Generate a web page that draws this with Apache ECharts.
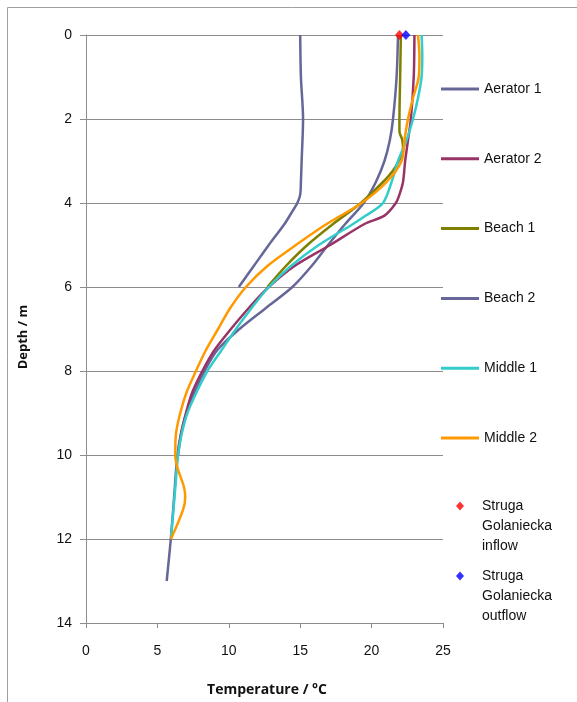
<!DOCTYPE html>
<html>
<head>
<meta charset="utf-8">
<script src="https://cdn.jsdelivr.net/npm/echarts@6/dist/echarts.min.js"></script>
<style>
html,body{margin:0;padding:0;background:#fff;}
#chart{width:577px;height:702px;}
</style>
</head>
<body>
<div id="chart"></div>
<script>
// ---- data (temperature °C vs depth m) ----
const aerator1Depth = [0, 1, 2, 2.5, 3, 3.5, 4, 4.5, 5, 5.5, 6, 6.5, 7, 7.5, 8, 8.5, 9, 9.5, 10, 11, 12, 13];
const aerator1Temp  = [21.85, 21.75, 21.5, 21.28, 20.9, 20.3, 19.45, 18.15, 16.95, 15.8, 14.45, 12.6, 10.75, 9.2, 8.3, 7.6, 7.05, 6.65, 6.4, 6.17, 5.94, 5.65];

const aerator2Depth = [0, 1, 2, 2.5, 3, 3.5, 3.8, 4, 4.3, 4.5, 5, 5.5, 6, 6.5, 7, 7.5, 8, 8.5, 9, 9.5, 10];
const aerator2Temp  = [23.0, 22.95, 22.75, 22.55, 22.35, 22.2, 21.95, 21.7, 20.9, 19.5, 17.1, 14.6, 12.8, 11.4, 10.15, 9.0, 8.15, 7.45, 7.0, 6.65, 6.45];

const beach1Depth = [0, 1, 2, 2.3, 2.5, 2.75, 3, 3.25, 3.5, 4, 4.5, 5, 5.5, 6];
const beach1Temp  = [22.05, 22.0, 21.95, 21.95, 22.15, 22.2, 21.9, 21.45, 20.8, 19.25, 17.3, 15.5, 14.0, 12.7];

const beach2Depth = [0, 1, 2, 3, 3.5, 3.8, 4, 4.2, 4.5, 5, 5.5, 6];
const beach2Temp  = [15.0, 15.05, 15.2, 15.1, 15.05, 15.0, 14.8, 14.45, 13.9, 12.8, 11.75, 10.7];

const middle1Depth = [0, 0.5, 1, 1.5, 2, 2.5, 3, 3.5, 4, 4.3, 4.5, 5, 5.5, 6, 6.5, 7, 7.5, 8, 8.5, 9, 9.5, 10, 11, 12];
const middle1Temp  = [23.5, 23.55, 23.5, 23.25, 22.9, 22.45, 21.85, 21.4, 20.8, 19.6, 18.7, 16.3, 14.35, 12.8, 11.6, 10.5, 9.5, 8.5, 7.75, 7.1, 6.7, 6.45, 6.2, 5.95];

const middle2Depth = [0, 0.5, 1, 1.5, 2, 2.5, 3, 3.5, 4, 4.5, 5, 5.5, 6, 6.5, 7, 7.5, 8, 8.5, 9, 9.5, 10, 10.3, 10.75, 11, 11.3, 12];
const middle2Temp  = [23.25, 23.35, 23.3, 22.9, 22.55, 22.3, 22.1, 21.05, 19.3, 16.85, 14.7, 12.7, 11.2, 10.1, 9.25, 8.4, 7.7, 7.05, 6.6, 6.3, 6.25, 6.4, 6.85, 6.95, 6.8, 5.95];

const inflowDepth = [0];
const inflowTemp  = [21.95];
const outflowDepth = [0];
const outflowTemp  = [22.4];

const lineNames = ['Aerator 1', 'Aerator 2', 'Beach 1', 'Beach 2', 'Middle 1', 'Middle 2'];
const inflowName = 'Struga Golaniecka inflow';
const outflowName = 'Struga Golaniecka outflow';

const depthTicks = [0, 2, 4, 6, 8, 10, 12, 14];
const tempTicks = [0, 5, 10, 15, 20, 25];

// ---- helpers ----
function pairs(temps, depths) { return temps.map((t, i) => [t, depths[i]]); }

const lineDefs = [
  { name: lineNames[0], t: aerator1Temp, d: aerator1Depth, color: '#666699' },
  { name: lineNames[1], t: aerator2Temp, d: aerator2Depth, color: '#993366' },
  { name: lineNames[2], t: beach1Temp,   d: beach1Depth,   color: '#808000' },
  { name: lineNames[3], t: beach2Temp,   d: beach2Depth,   color: '#666699' },
  { name: lineNames[4], t: middle1Temp,  d: middle1Depth,  color: '#33CCCC' },
  { name: lineNames[5], t: middle2Temp,  d: middle2Depth,  color: '#FF9900' }
];

const series = lineDefs.map(s => ({
  name: s.name,
  type: 'line',
  data: pairs(s.t, s.d),
  showSymbol: false,
  symbol: 'none',
  smooth: 0.3,
  clip: false,
  color: s.color,
  itemStyle: { color: s.color },
  lineStyle: { color: s.color, width: 2.5 },
  emphasis: { disabled: true },
  animation: false
}));

series.push({
  name: inflowName, type: 'scatter', data: pairs(inflowTemp, inflowDepth),
  symbol: 'diamond', symbolSize: [9, 10], color: '#FF0000',
  itemStyle: { color: '#FF0000' }, clip: false, z: 5, animation: false
});
series.push({
  name: outflowName, type: 'scatter', data: pairs(outflowTemp, outflowDepth),
  symbol: 'diamond', symbolSize: [9, 10], color: '#0000FF',
  itemStyle: { color: '#0000FF' }, clip: false, z: 5, animation: false
});

const labelFont = 'Liberation Sans, Arial, sans-serif';

const chart = echarts.init(document.getElementById('chart'), null, { renderer: 'canvas' });
chart.setOption({
  backgroundColor: '#ffffff',
  animation: false,
  grid: { left: 86, top: 35, width: 357, height: 588, containLabel: false },
  xAxis: {
    type: 'value', min: tempTicks[0], max: tempTicks[tempTicks.length - 1], interval: 5,
    position: 'bottom',
    axisLine: { onZero: false, lineStyle: { color: '#8c8c8c', width: 1 } },
    axisTick: { show: true, length: 5, lineStyle: { color: '#8c8c8c' } },
    axisLabel: { fontFamily: labelFont, fontSize: 14, color: '#111', margin: 21 },
    splitLine: { show: false }
  },
  yAxis: {
    type: 'value', inverse: true, min: depthTicks[0], max: depthTicks[depthTicks.length - 1], interval: 2,
    axisLine: { show: true, onZero: false, lineStyle: { color: '#8c8c8c', width: 1 } },
    axisTick: { show: true, length: 6, lineStyle: { color: '#8c8c8c' } },
    axisLabel: { fontFamily: labelFont, fontSize: 14, color: '#111', margin: 14 },
    splitLine: { show: true, lineStyle: { color: '#8c8c8c', width: 1 } }
  },
  legend: [
    {
      data: lineNames, orient: 'vertical', left: 441, top: 81, padding: 0,
      icon: 'rect', itemWidth: 38, itemHeight: 3, itemGap: 53.8,
      selectedMode: false,
      textStyle: { fontFamily: labelFont, fontSize: 14, color: '#111', lineHeight: 16 }
    },
    {
      data: [inflowName], orient: 'vertical', left: 456, top: 456, padding: 0,
      icon: 'diamond', itemWidth: 8, itemHeight: 9, selectedMode: false,
      formatter: () => '\n\nStruga\nGolaniecka\ninflow',
      textStyle: { fontFamily: labelFont, fontSize: 14, color: '#111', lineHeight: 20, padding: [0, 0, 0, 13] }
    },
    {
      data: [outflowName], orient: 'vertical', left: 456, top: 526, padding: 0,
      icon: 'diamond', itemWidth: 8, itemHeight: 9, selectedMode: false,
      formatter: () => '\n\nStruga\nGolaniecka\noutflow',
      textStyle: { fontFamily: labelFont, fontSize: 14, color: '#111', lineHeight: 20, padding: [0, 0, 0, 13] }
    }
  ],
  graphic: [
    { type: 'rect', silent: true, z: -1,
      shape: { x: 7.5, y: 7.5, width: 620, height: 720 },
      style: { fill: 'none', stroke: '#a0a0a0', lineWidth: 1 } },
    { type: 'text', silent: true, x: 23, y: 337, rotation: Math.PI / 2,
      style: { text: 'Depth / m', fontFamily: 'Open Sans, sans-serif', fontWeight: 'bold', fontSize: 13,
               fill: '#111', align: 'center', verticalAlign: 'middle' } },
    { type: 'text', silent: true, x: 267, y: 690,
      style: { text: 'Temperature / °C', fontFamily: 'Open Sans, sans-serif', fontWeight: 'bold', fontSize: 14,
               fill: '#111', align: 'center', verticalAlign: 'middle' } }
  ],
  series: series
});
</script>
</body>
</html>
